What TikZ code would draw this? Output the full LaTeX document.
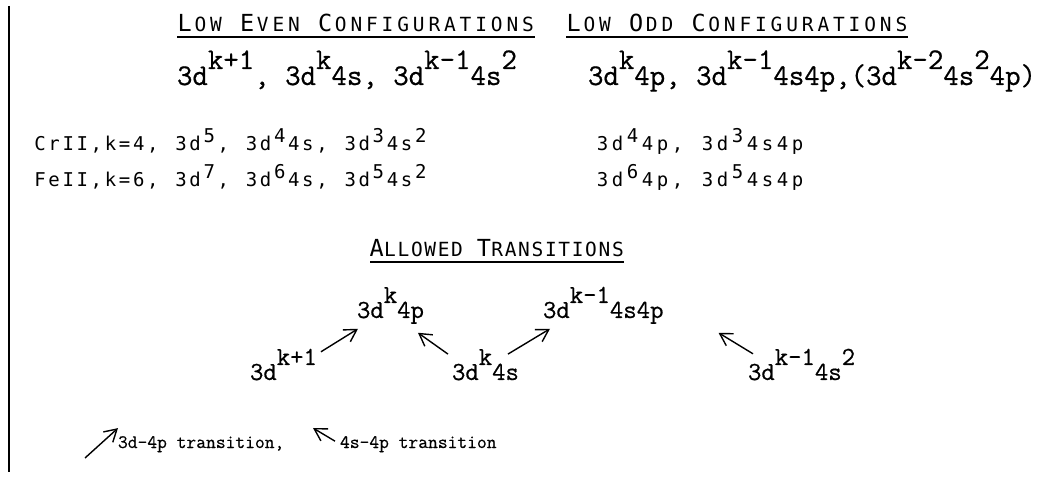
\documentclass[tikz,border=0pt]{standalone}
\usepackage{fontspec}
\newfontfamily\mono{Latin Modern Mono}[FakeBold=0.6]
\newfontfamily\smono{DejaVu Sans Mono}
\usetikzlibrary{arrows.meta}
\newlength\pitch
\def\lsloop#1{\ifx\relax#1\else\makebox[\pitch][c]{#1}\expandafter\lsloop\fi}
\newcommand\ls[1]{\lsloop#1\relax}
\newcommand\up[2][15pt]{\raisebox{#1}{#2}}
\newcommand\bigf{\fontsize{23.5}{23.5}\selectfont}
\begin{document}
\begin{tikzpicture}[x=1pt,y=-1pt,
  every node/.style={inner sep=0pt,outer sep=0pt,anchor=base west},
  head/.style={font=\smono\fontsize{19.5}{19.5}\selectfont},
  conf/.style={font=\mono\fontsize{30}{30}\selectfont},
  ion/.style={font=\smono\fontsize{19}{19}\selectfont},
  lvl/.style={font=\mono\fontsize{26}{26}\selectfont},
  leg/.style={font=\mono\fontsize{19}{19}\selectfont},
  arr/.style={line width=1.4pt,-{Straight Barb[length=12pt,width=14pt,line width=1.4pt]}},
  uline/.style={line width=1.2pt}]
\useasboundingbox (0,0) rectangle (1053,478);
\draw[line width=1.4pt] (9,6) -- (9,472);
% headings
\node[head] (h1) at (177,32) {\setlength\pitch{15.6pt}\ls{{\bigf L}OW~{\bigf E}VEN~{\bigf C}ONFIGURATIONS}};
\node[head] (h2) at (566,32) {\setlength\pitch{15.6pt}\ls{{\bigf L}OW~{\bigf O}DD~{\bigf C}ONFIGURATIONS}};
\node[head] (h3) at (370,257) {\setlength\pitch{13.4pt}\ls{{\bigf A}LLOWED~{\bigf T}RANSITIONS}};
\foreach \h in {h1,h2,h3}
  \draw[uline] ([yshift=-5pt]\h.base west) -- ([yshift=-5pt,xshift=-1pt]\h.base east);
% general configurations
\node[conf] (even) at (177,85) {3d\up[16pt]{k+1}, 3d\up[16pt]{k}4s, 3d\up[16pt]{k-1}4s\up[16pt]{2}};
\node[conf] (odd) at (588,85) {3d\up[16pt]{k}4p, 3d\up[16pt]{k-1}4s4p,(3d\up[16pt]{k-2}4s\up[16pt]{2}4p)};
% ions
\node[ion] (cr) at (33,151) {\setlength\pitch{14.1pt}\ls{CrII,k=4,~3d}\up[8pt]{\ls{5}}\ls{,~3d}\up[8pt]{\ls{4}}\ls{4s,~3d}\up[8pt]{\ls{3}}\ls{4s}\up[8pt]{\ls{2}}};
\node[ion] (crodd) at (595,151) {\setlength\pitch{15pt}\ls{3d}\up[8pt]{\ls{4}}\ls{4p,~3d}\up[8pt]{\ls{3}}\ls{4s4p}};
\node[ion] (fe) at (33,187) {\setlength\pitch{14.1pt}\ls{FeII,k=6,~3d}\up[8pt]{\ls{7}}\ls{,~3d}\up[8pt]{\ls{6}}\ls{4s,~3d}\up[8pt]{\ls{5}}\ls{4s}\up[8pt]{\ls{2}}};
\node[ion] (feodd) at (595,187) {\setlength\pitch{15pt}\ls{3d}\up[8pt]{\ls{6}}\ls{4p,~3d}\up[8pt]{\ls{5}}\ls{4s4p}};
% transitions
\node[lvl] (t4p) at (357,318) {3d\up{k}4p};
\node[lvl] (t4s4p) at (543,318) {3d\up{k-1}4s4p};
\node[lvl] (tk1) at (250,380) {3d\up{k+1}};
\node[lvl] (t4s) at (452,380) {3d\up{k}4s};
\node[lvl] (t4s2) at (748,380) {3d\up{k-1}4s\up{2}};
\draw[arr] ([shift={(4,3)}]tk1.north east) -- ([shift={(1,5)}]t4p.south west);
\draw[arr] ([shift={(-4,5)}]t4s.north west) -- ([shift={(-6,9)}]t4p.south east);
\draw[arr] ([shift={(-11,5)}]t4s.north east) -- ([shift={(7,5)}]t4s4p.south west);
\draw[arr] ([shift={(5,5)}]t4s2.north west) -- ([shift={(55,9)}]t4s4p.south east);
% legend
\node[leg] (leg1) at (118,448) {3d-4p transition,};
\node[leg] (leg2) at (340,448) {4s-4p transition};
\coordinate (l1s) at (85,458);
\coordinate (l2e) at (313,428);
\draw[arr] (l1s) -- ([shift={(0,-8)}]leg1.north west);
\draw[arr] ([shift={(-5,-3)}]leg2.west) -- (l2e);
\end{tikzpicture}
\end{document}
